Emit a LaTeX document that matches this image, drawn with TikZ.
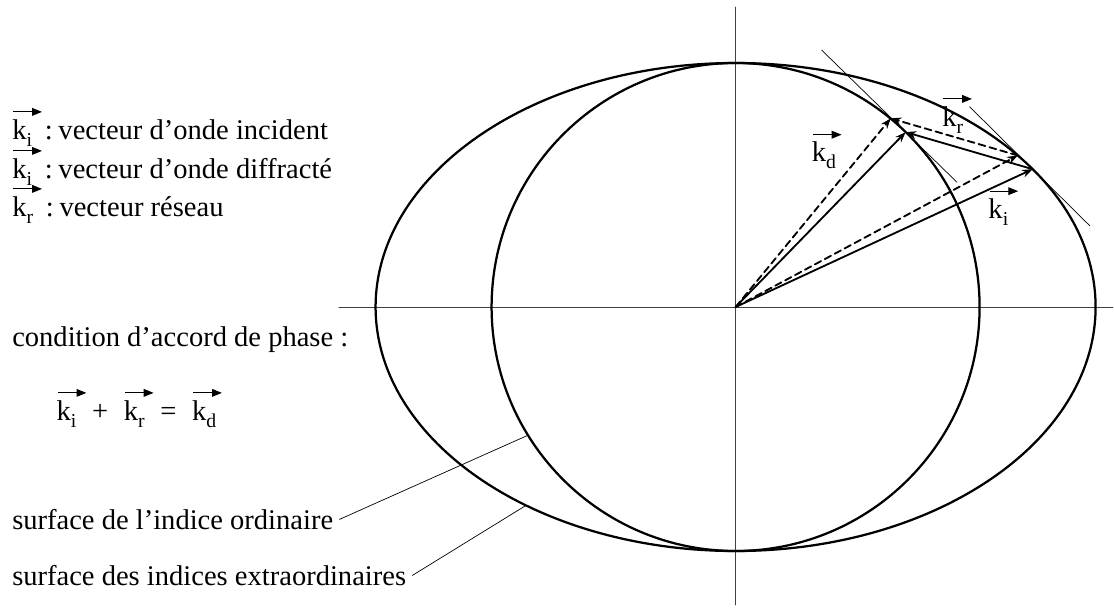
\documentclass[tikz,border=0pt]{standalone}
\usepackage{fontspec}
\setmainfont{Liberation Serif}
\usetikzlibrary{calc,arrows.meta}

\tikzset{
  courbe/.style={line width=1.6pt},
  axe/.style={line width=0.6pt,black!75},
  fin/.style={line width=0.5pt},
  vecteur/.style={line width=1.3pt,-{Stealth[length=7.5pt,width=5.5pt]}},
  vecpt/.style={vecteur,dash pattern=on 5pt off 3pt},
  barre/.style={line width=0.7pt,-{Triangle[length=7pt,width=5.5pt]}},
  texte/.style={anchor=base west,inner sep=0pt},
}
% k avec indice et fleche au-dessus
\newcommand\vk[1]{\tikz[baseline=0pt]{\node[texte] (kk) at (0,0) {k\raisebox{-0.25em}{\fontsize{14}{14}\selectfont #1}}; \draw[barre,overlay] (0.05em,0.95em) -- ++(1.0em,0);}}

\begin{document}
\begin{tikzpicture}[line cap=round,line join=round,font=\fontsize{20.3}{24}\selectfont]
  \useasboundingbox (-18.39,-7.5) rectangle (9.46,7.675);
  % axes
  \draw[axe] (-9.92,0) -- (9.43,0);
  \draw[axe] (0,-7.45) -- (0,7.5);
  % surfaces des indices
  \draw[courbe] (0,0) ellipse [x radius=9, y radius=6.1];
  \draw[courbe] (0,0) circle [radius=6.1];
  % extremites des vecteurs
  \coordinate (O) at (0,0);
  \coordinate (Ki) at (34.4:9 and 6.1);
  \coordinate (Kd) at ($(Ki)+(-3.174,0.926)$);
  \coordinate (Kia) at (38.4:9 and 6.1);
  \coordinate (Kda) at ($(Kia)+(-3.174,0.926)$);
  % tangentes
  \draw[fin] ($(Kd)+(-2.1,2.05)$) -- ($(Kd)+(1.28,-1.25)$);
  \draw[fin] ($(Ki)+(-1.578,1.563)$) -- ($(Ki)+(1.429,-1.415)$);
  % vecteurs d'onde
  \draw[vecteur] (O) -- (Ki);
  \draw[vecteur] (O) -- (Kd);
  \draw[vecteur] (Ki) -- (Kd);
  \draw[vecpt] (O) -- (Kia);
  \draw[vecpt] (O) -- (Kda);
  \draw[vecpt] (Kia) -- (Kda);
  \node[texte] (lkr) at (5.16,4.525) {\vk{r}};
  \node[texte] (lkd) at (1.9,3.63) {\vk{d}};
  \node[texte] (lki) at (6.315,2.218) {\vk{i}};
  % legende
  \node[texte] (leg1) at (-18.09,4.2) {\vk{i}\hspace{0.45em}:\hspace{0.2em}vecteur d’onde incident};
  \node[texte] (leg2) at (-18.09,3.225) {\vk{i}\hspace{0.45em}:\hspace{0.2em}vecteur d’onde diffracté};
  \node[texte] (leg3) at (-18.09,2.275) {\vk{r}\hspace{0.45em}:\hspace{0.2em}vecteur réseau};
  \node[texte] (cond) at (-18.09,-0.975) {condition d’accord de phase :};
  \node[texte] (eq) at (-16.98,-2.825) {\vk{i}\hspace{0.55em}+\hspace{0.55em}\vk{r}\hspace{0.55em}=\hspace{0.55em}\vk{d}};
  \node[texte] (ordi) at (-18.09,-5.55) {surface de l’indice ordinaire};
  \node[texte] (extra) at (-18.09,-6.95) {surface des indices extraordinaires};
  % traits de rappel
  \coordinate (Lo) at (211.7:6.1);
  \coordinate (Le) at (234.4:9 and 6.1);
  \draw[fin] ([shift={(0.15,0.24)}]ordi.base east) -- (Lo);
  \draw[fin] ([shift={(0.15,0.24)}]extra.base east) -- (Le);
\end{tikzpicture}
\end{document}
